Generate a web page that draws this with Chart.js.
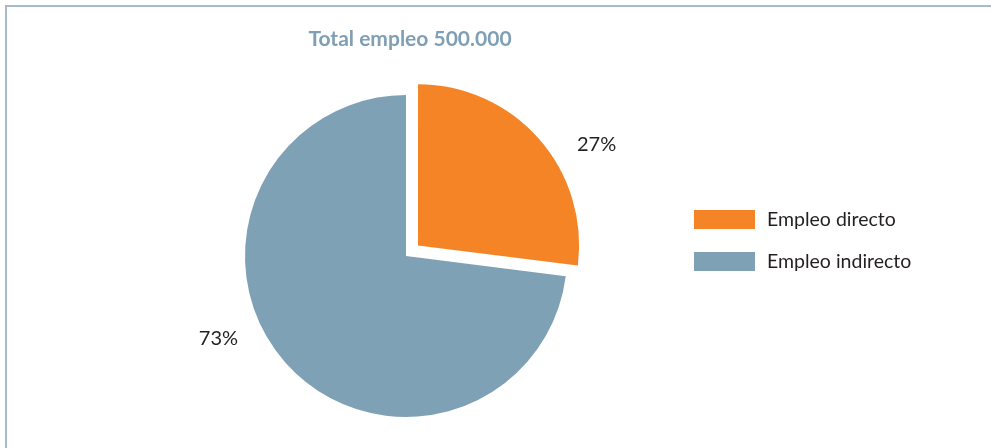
<!DOCTYPE html>
<html>
<head>
<meta charset="utf-8">
<script src="https://cdn.jsdelivr.net/npm/chart.js@4.4.1/dist/chart.umd.min.js"></script>
<style>
  html, body { margin: 0; padding: 0; background: #ffffff; }
  #wrap { position: relative; width: 991px; height: 448px; }
  canvas { display: block; }
</style>
</head>
<body>
<div id="wrap"><canvas id="c" width="991" height="448"></canvas></div>
<script>
// ---- data ----
const categories = ['Empleo directo', 'Empleo indirecto'];
const shares = [27, 73];
const titleText = 'Total empleo 500.000';

// ---- styles ----
const sliceColors = ['#F58426', '#7FA1B5'];
const sliceExplodePx = [16, 0];
const labelAngleNudgeDeg = [12, 17.6];
const labelDistance = 44;
const textFont = 'Lato, "Liberation Sans", sans-serif';

const framePlugin = {
  id: 'frame',
  beforeDraw(chart) {
    const ctx = chart.ctx;
    ctx.save();
    ctx.fillStyle = '#ffffff';
    ctx.fillRect(0, 0, chart.width, chart.height);
    ctx.strokeStyle = '#A3BBCB';
    ctx.lineWidth = 2;
    ctx.beginPath();
    ctx.moveTo(6, chart.height);
    ctx.lineTo(6, 6);
    ctx.lineTo(chart.width, 6);
    ctx.stroke();
    ctx.restore();
  }
};

const decorPlugin = {
  id: 'decor',
  afterDraw(chart) {
    const ctx = chart.ctx;
    const meta = chart.getDatasetMeta(0);
    ctx.save();
    // title
    ctx.fillStyle = '#7F9FB4';
    ctx.font = 'bold 21px ' + textFont;
    ctx.textAlign = 'center';
    ctx.textBaseline = 'middle';
    ctx.fillText(titleText, 410, 39);

    // percentage labels
    ctx.fillStyle = '#231F20';
    ctx.font = '20px ' + textFont;
    meta.data.forEach((arc, i) => {
      const p = arc.getProps(['x', 'y', 'startAngle', 'endAngle', 'outerRadius'], true);
      const off = sliceExplodePx[i];
      const mid = (p.startAngle + p.endAngle) / 2;
      const cx = p.x + Math.cos(mid) * off;
      const cy = p.y + Math.sin(mid) * off;
      const a = mid + labelAngleNudgeDeg[i] * Math.PI / 180;
      const r = p.outerRadius + labelDistance;
      ctx.fillText(shares[i] + '%', cx + Math.cos(a) * r, cy + Math.sin(a) * r);
    });

    // legend
    ctx.textAlign = 'left';
    ctx.font = '19.5px ' + textFont;
    categories.forEach((name, i) => {
      const y = 210 + i * 42;
      ctx.fillStyle = sliceColors[i];
      ctx.fillRect(694, y, 61, 19);
      ctx.fillStyle = '#231F20';
      ctx.fillText(name, 767, y + 10);
    });
    ctx.restore();
  }
};

new Chart(document.getElementById('c'), {
  type: 'pie',
  data: {
    labels: categories,
    datasets: [{
      data: shares,
      backgroundColor: sliceColors,
      borderWidth: 0,
      // Chart.js translates an arc by offset / 4
      offset: sliceExplodePx.map(v => v * 4),
      hoverOffset: 0
    }]
  },
  options: {
    responsive: false,
    animation: false,
    radius: 161,
    layout: { padding: { left: 206, right: 385, top: 66, bottom: 2 } },
    plugins: {
      legend: { display: false },
      title: { display: false },
      tooltip: { enabled: false }
    },
    events: []
  },
  plugins: [framePlugin, decorPlugin]
});
</script>
</body>
</html>
